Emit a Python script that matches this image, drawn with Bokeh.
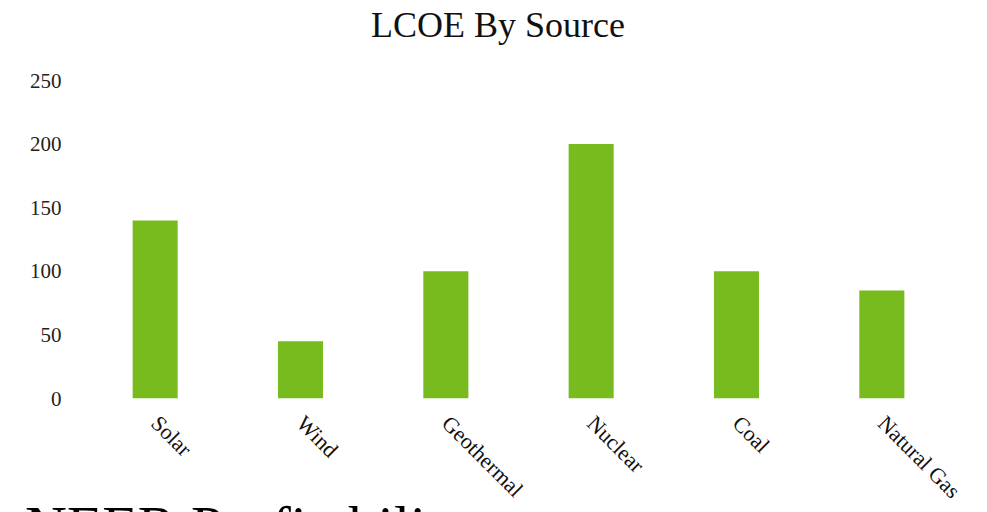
import math
from bokeh.plotting import figure
from bokeh.models import Range1d, FixedTicker, Div
from bokeh.layouts import column
from bokeh.embed import file_html
from bokeh.resources import INLINE

# Levelized cost of energy by generation source
sources = ["Solar", "Wind", "Geothermal", "Nuclear", "Coal", "Natural Gas"]
lcoe = [140, 45, 100, 200, 100, 85]
y_ticks = [0, 50, 100, 150, 200, 250]

SERIF = "Liberation Serif"
BAR_GREEN = "#77BB1F"

# Page title above the chart
title = Div(
    text="LCOE By Source",
    width=987,
    height=50,
    margin=(0, 0, 0, 0),
    styles={
        "font-family": SERIF,
        "font-size": "36px",
        "line-height": "50px",
        "color": "#111111",
        "text-indent": "371px",
        "white-space": "nowrap",
    },
)

p = figure(
    x_range=sources,
    y_range=Range1d(0, 250),
    frame_width=872,
    frame_height=318,
    min_border_left=82,
    min_border_right=33,
    min_border_top=30,
    min_border_bottom=114,
    output_backend="svg",
    toolbar_location=None,
)

p.vbar(x=sources, top=lcoe, width=0.31, fill_color=BAR_GREEN, line_color=None)

p.outline_line_color = None
p.xgrid.grid_line_color = None
p.ygrid.grid_line_color = None

p.yaxis.ticker = FixedTicker(ticks=y_ticks)
p.yaxis.axis_line_color = None
p.yaxis.major_tick_line_color = None
p.yaxis.minor_tick_line_color = None
p.yaxis.major_tick_out = 0
p.yaxis.minor_tick_out = 0
p.yaxis.major_label_standoff = 21
p.yaxis.major_label_text_font = SERIF
p.yaxis.major_label_text_font_size = "21px"
p.yaxis.major_label_text_color = "#222222"

p.xaxis.axis_line_color = None
p.xaxis.major_tick_line_color = None
p.xaxis.major_tick_out = 0
p.xaxis.major_label_orientation = -math.pi / 4
p.xaxis.major_label_standoff = 21
p.xaxis.major_label_text_font = SERIF
p.xaxis.major_label_text_font_size = "22px"
p.xaxis.major_label_text_color = "#111111"

# Heading of the following section, partly below the visible area
heading = Div(
    text="NEER Profitability",
    width=900,
    height=70,
    margin=(-16, 0, 0, 25),
    styles={
        "font-family": SERIF,
        "font-size": "58px",
        "line-height": "1",
        "color": "#000000",
        "white-space": "nowrap",
    },
)

page = column(title, p, heading)

open("out.html", "w").write(file_html(page, INLINE))
